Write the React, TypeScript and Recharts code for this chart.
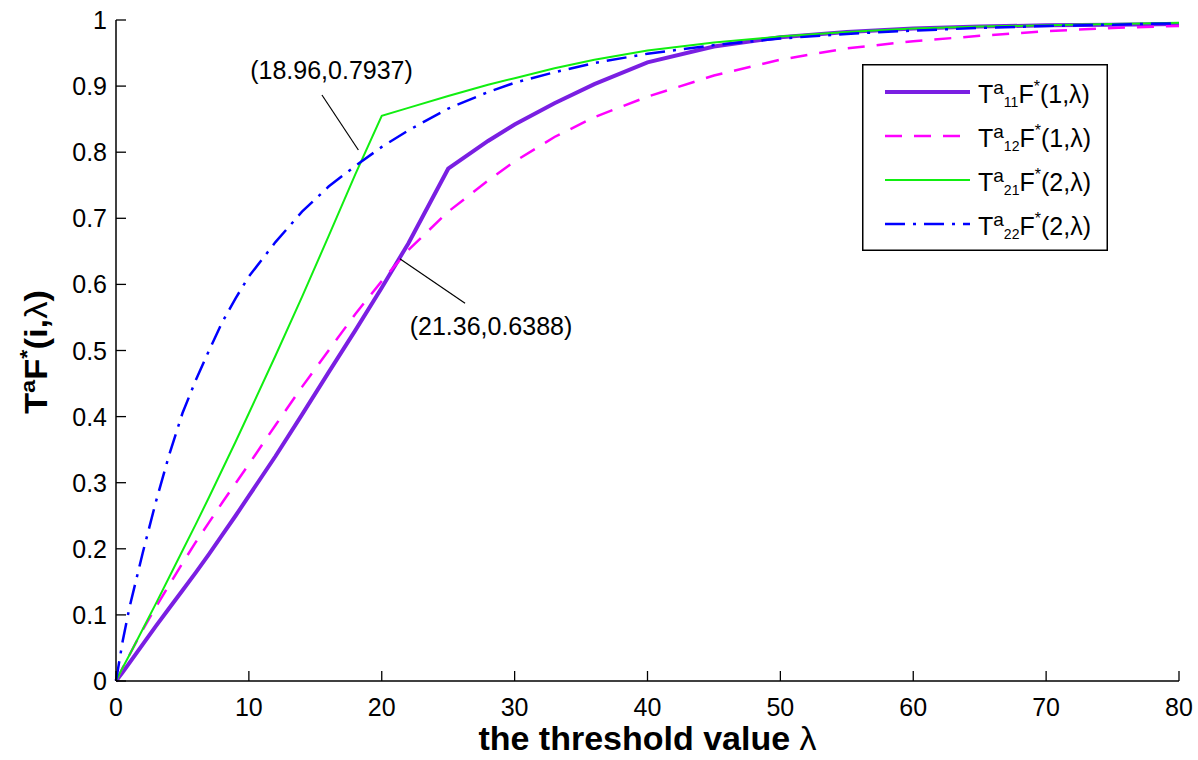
import React from 'react';
import {
  LineChart,
  Line,
  XAxis,
  YAxis,
  ReferenceLine,
  ReferenceDot,
} from 'recharts';

// threshold value lambda (shared grid for all series)
const lambda = [0, 0.5, 1, 2, 3, 4, 5, 6, 7, 8, 9, 10, 12, 14, 16, 18, 20, 22, 25, 28, 30, 33, 36, 40, 45, 50, 55, 60, 65, 70, 75, 80];

// T^a_11 F*(1, lambda)
const t11 = [0, 0.013, 0.027, 0.055, 0.083, 0.11, 0.137, 0.164, 0.192, 0.221, 0.25, 0.28, 0.34, 0.403, 0.467, 0.53, 0.595, 0.662, 0.775, 0.817, 0.842, 0.874, 0.903, 0.936, 0.96, 0.974, 0.982, 0.987, 0.99, 0.992, 0.993, 0.994];
// T^a_12 F*(1, lambda)
const t12 = [0, 0.02, 0.039, 0.077, 0.112, 0.145, 0.178, 0.21, 0.24, 0.27, 0.299, 0.328, 0.387, 0.445, 0.5, 0.555, 0.605, 0.652, 0.71, 0.757, 0.786, 0.823, 0.853, 0.884, 0.916, 0.94, 0.957, 0.968, 0.976, 0.983, 0.988, 0.991];
// T^a_21 F*(2, lambda)
const t21 = [0, 0.02, 0.039, 0.078, 0.117, 0.157, 0.197, 0.237, 0.278, 0.32, 0.362, 0.405, 0.492, 0.581, 0.673, 0.766, 0.855, 0.867, 0.885, 0.902, 0.912, 0.927, 0.94, 0.954, 0.966, 0.975, 0.982, 0.987, 0.99, 0.992, 0.994, 0.996];
// T^a_22 F*(2, lambda)
const t22 = [0, 0.06, 0.11, 0.193, 0.271, 0.342, 0.405, 0.455, 0.5, 0.543, 0.579, 0.612, 0.664, 0.71, 0.748, 0.779, 0.808, 0.833, 0.866, 0.891, 0.905, 0.921, 0.935, 0.949, 0.962, 0.972, 0.979, 0.984, 0.988, 0.991, 0.993, 0.995];

const xTicks = [0, 10, 20, 30, 40, 50, 60, 70, 80];
const yTicks = [0, 0.1, 0.2, 0.3, 0.4, 0.5, 0.6, 0.7, 0.8, 0.9, 1];

const data = lambda.map((l, i) => ({
  lambda: l,
  t11: t11[i],
  t12: t12[i],
  t21: t21[i],
  t22: t22[i],
}));

const FONT = '"Liberation Sans", Arial, Helvetica, sans-serif';
const TICK_LEN = 10;

const series = [
  { key: 't11', color: '#7a1fe2', width: 4, dash: undefined, sub: '11', arg: '1' },
  { key: 't12', color: '#ff00ff', width: 2.5, dash: '17 12', sub: '12', arg: '1' },
  { key: 't21', color: '#11ee11', width: 2, dash: undefined, sub: '21', arg: '2' },
  { key: 't22', color: '#0000ff', width: 2.5, dash: '20 8 3 8', sub: '22', arg: '2' },
];

const BottomTick = ({ x, y, payload }: any) => (
  <g>
    <line x1={x} y1={y} x2={x} y2={y - TICK_LEN} stroke="#000" strokeWidth={1.3} />
    <text x={x} y={y + 35} textAnchor="middle" fontFamily={FONT} fontSize={25} fill="#000">
      {payload.value}
    </text>
  </g>
);

const LeftTick = ({ x, y, payload }: any) => (
  <g>
    <line x1={x} y1={y} x2={x + TICK_LEN} y2={y} stroke="#000" strokeWidth={1.3} />
    <text x={x - 9} y={y + 9} textAnchor="end" fontFamily={FONT} fontSize={25} fill="#000">
      {String(payload.value)}
    </text>
  </g>
);

const TopTick = ({ x, y }: any) => (
  <line x1={x} y1={y} x2={x} y2={y + TICK_LEN} stroke="#000" strokeWidth={1.3} />
);

const RightTick = ({ x, y }: any) => (
  <line x1={x} y1={y} x2={x - TICK_LEN} y2={y} stroke="#000" strokeWidth={1.3} />
);

const XTitle = () => (
  <text x={647.5} y={750} textAnchor="middle" fontFamily={FONT} fontSize={34} fontWeight="bold" fill="#000">
    the threshold value <tspan fontWeight="normal">λ</tspan>
  </text>
);

const YTitle = () => (
  <text
    x={47}
    y={352}
    transform="rotate(-90, 47, 352)"
    textAnchor="middle"
    fontFamily={FONT}
    fontSize={31}
    fontWeight="bold"
    fill="#000"
    textLength={124}
    lengthAdjust="spacingAndGlyphs"
  >
    T<tspan dy={-12} fontSize={21}>a</tspan>
    <tspan dy={12}>F</tspan>
    <tspan dy={-13} fontSize={21}>*</tspan>
    <tspan dy={13}>(i,</tspan>
    <tspan fontWeight="normal">λ</tspan>)
  </text>
);

const Annotation = (text: string) => (props: any) => (
  <text x={props.cx} y={props.cy} textAnchor="middle" fontFamily={FONT} fontSize={25} fill="#000">
    {text}
  </text>
);

const LegendBox = () => (
  <div style={{ position: 'absolute', left: 862, top: 64, width: 246, height: 187 }}>
    <svg width={246} height={187}>
      <rect x={0.75} y={0.75} width={244.5} height={185.5} fill="#fff" stroke="#000" strokeWidth={1.5} />
      {series.map((s, i) => {
        const y = 28 + i * 44;
        return (
          <g key={s.key}>
            <line x1={23} y1={y} x2={108} y2={y} stroke={s.color} strokeWidth={s.width} strokeDasharray={s.dash} />
            <text x={116} y={y + 11} fontFamily={FONT} fontSize={25} fill="#000">
              T<tspan dy={-9} fontSize={19}>a</tspan>
              <tspan dy={13} fontSize={14}>{s.sub}</tspan>
              <tspan dy={-4}>F</tspan>
              <tspan dy={-11} fontSize={16}>*</tspan>
              <tspan dy={11}>({s.arg},λ)</tspan>
            </text>
          </g>
        );
      })}
    </svg>
  </div>
);

export default function App() {
  return (
    <div style={{ position: 'absolute', left: 0, top: 0, width: 1198, height: 760, background: '#fff' }}>
      <LineChart width={1198} height={760} data={data} margin={{ top: 20, right: 19, bottom: 0, left: 0 }}>
        <XAxis
          dataKey="lambda"
          type="number"
          domain={[0, 80]}
          ticks={xTicks}
          interval={0}
          height={79}
          tickSize={0}
          tickMargin={0}
          tickLine={false}
          axisLine={{ stroke: '#000', strokeWidth: 1.5 }}
          tick={<BottomTick />}
          label={<XTitle />}
        />
        <XAxis
          xAxisId="top"
          orientation="top"
          dataKey="lambda"
          type="number"
          domain={[0, 80]}
          ticks={xTicks}
          interval={0}
          height={0}
          tickSize={0}
          tickMargin={0}
          tickLine={false}
          axisLine={{ stroke: '#000', strokeWidth: 1.5 }}
          tick={<TopTick />}
        />
        <YAxis
          type="number"
          domain={[0, 1]}
          ticks={yTicks}
          interval={0}
          width={116}
          tickSize={0}
          tickMargin={0}
          tickLine={false}
          axisLine={{ stroke: '#000', strokeWidth: 1.5 }}
          tick={<LeftTick />}
          label={<YTitle />}
        />
        <YAxis
          yAxisId="right"
          orientation="right"
          type="number"
          domain={[0, 1]}
          ticks={yTicks}
          interval={0}
          width={0}
          tickSize={0}
          tickMargin={0}
          tickLine={false}
          axisLine={{ stroke: '#000', strokeWidth: 1.5 }}
          tick={<RightTick />}
        />
        {series.map((s) => (
          <Line
            key={s.key}
            type="linear"
            dataKey={s.key}
            stroke={s.color}
            strokeWidth={s.width}
            strokeDasharray={s.dash}
            dot={false}
            activeDot={false}
            isAnimationActive={false}
          />
        ))}
        <ReferenceLine
          segment={[{ x: 15.5, y: 0.8865 }, { x: 18.24, y: 0.8033 }]}
          stroke="#000"
          strokeWidth={1.2}
        />
        <ReferenceLine
          segment={[{ x: 21.36, y: 0.6388 }, { x: 26.27, y: 0.5714 }]}
          stroke="#000"
          strokeWidth={1.2}
        />
        <ReferenceDot x={16.22} y={0.9107} r={0} shape={Annotation('(18.96,0.7937)')} />
        <ReferenceDot x={28.22} y={0.5234} r={0} shape={Annotation('(21.36,0.6388)')} />
      </LineChart>
      <LegendBox />
    </div>
  );
}
